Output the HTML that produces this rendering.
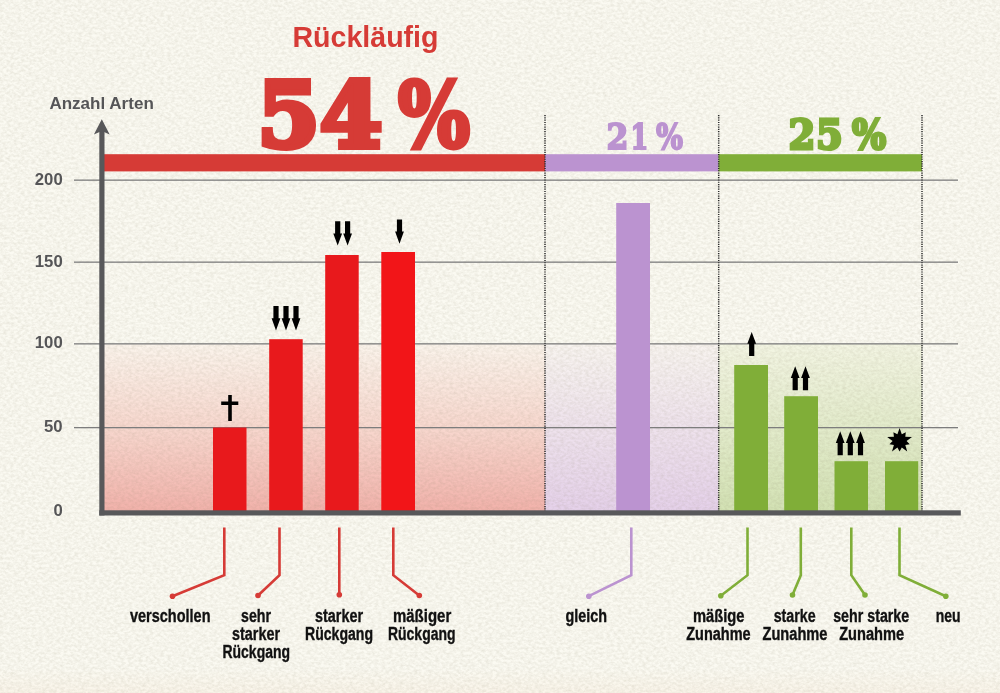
<!DOCTYPE html>
<html lang="de">
<head>
<meta charset="utf-8">
<title>Rückläufig</title>
<style>
html,body{margin:0;padding:0;background:#f4f3eb;}
body{width:1000px;height:693px;overflow:hidden;}
svg{display:block;}
.sans{font-family:"Liberation Sans",sans-serif;font-weight:bold;}
.slab{font-family:"DejaVu Serif","Liberation Serif",serif;font-weight:bold;}
.ax{fill:#58585a;}
.lbl{font-family:"Liberation Sans",sans-serif;font-weight:bold;font-size:17.5px;fill:#111;stroke:#111;stroke-width:0.35px;text-anchor:middle;}
</style>
</head>
<body>
<svg width="1000" height="693" viewBox="0 0 1000 693">
<defs>
<linearGradient id="gr" x1="0" y1="0" x2="0" y2="1">
<stop offset="0" stop-color="#fbf4ec"/><stop offset="0.5" stop-color="#f8d8cf"/><stop offset="1" stop-color="#f2b2ab"/>
</linearGradient>
<linearGradient id="gp" x1="0" y1="0" x2="0" y2="1">
<stop offset="0" stop-color="#f8f4f0"/><stop offset="1" stop-color="#e5d1ea"/>
</linearGradient>
<linearGradient id="gg" x1="0" y1="0" x2="0" y2="1">
<stop offset="0" stop-color="#f3f5e3"/><stop offset="1" stop-color="#d3e2b4"/>
</linearGradient>
<path id="ad" d="M-2.6 0h5.2v12.2h1.8L0 24.4 -4.4 12.2h1.8z"/>
<path id="au" d="M-2.6 24h5.2v-12.2h1.8L0 0 -4.4 11.8h1.8z"/>
<filter id="paper" x="0" y="0" width="100%" height="100%" color-interpolation-filters="sRGB">
<feTurbulence type="fractalNoise" baseFrequency="0.28 0.4" numOctaves="3" seed="7" result="n"/>
<feColorMatrix type="matrix" values="0 0 0 0 0.5  0 0 0 0 0.47  0 0 0 0 0.36  0.26 0 0 0 -0.08"/>
</filter>
<linearGradient id="warm" x1="0" y1="0" x2="0" y2="1">
<stop offset="0" stop-color="#f3d9bf" stop-opacity="0"/><stop offset="1" stop-color="#f3d9bf" stop-opacity="0.16"/>
</linearGradient>
</defs>
<rect width="1000" height="693" fill="#fbfaf2"/>
<rect y="668" width="1000" height="25" fill="url(#warm)"/>

<!-- shaded areas -->
<rect x="104" y="344" width="441" height="167" fill="url(#gr)"/>
<rect x="545" y="344" width="173.5" height="167" fill="url(#gp)"/>
<rect x="718.5" y="344" width="203.5" height="167" fill="url(#gg)"/>

<rect width="1000" height="693" filter="url(#paper)" pointer-events="none"/>
<!-- grid lines -->
<g fill="#7d7d7d">
<rect x="74" y="179.5" width="884" height="1.3"/>
<rect x="74" y="261.5" width="884" height="1.3"/>
<rect x="74" y="343.2" width="884" height="1.3"/>
<rect x="74" y="427" width="884" height="1.3"/>
</g>

<!-- header bars -->
<rect x="104" y="154.2" width="441" height="17.2" fill="#d63b36"/>
<rect x="545" y="154.2" width="173.5" height="17.2" fill="#bb93d0"/>
<rect x="718.5" y="154.2" width="203.5" height="17.2" fill="#80ae38"/>

<!-- data bars -->
<g fill="#e8191c">
<rect x="213" y="427.5" width="33.5" height="84"/>
<rect x="269.2" y="339.2" width="33.5" height="172"/>
<rect x="325.2" y="255" width="33.5" height="256"/>
<rect x="381.3" y="252" width="33.7" height="259" fill="#f21518"/>
</g>
<rect x="616.2" y="203" width="33.8" height="308" fill="#bb93d0"/>
<g fill="#80ae38">
<rect x="734.2" y="365" width="33.8" height="146"/>
<rect x="784.2" y="396.2" width="33.8" height="115"/>
<rect x="834.5" y="461.2" width="33.5" height="50"/>
<rect x="885" y="461.2" width="33.2" height="50"/>
</g>

<!-- dotted dividers -->
<g stroke="#2a2a2a" stroke-width="1.5" stroke-dasharray="1.15 1.15" fill="none">
<path d="M545 115V511"/><path d="M718.7 115V511"/><path d="M922 115V511"/>
</g>

<!-- axes -->
<rect class="ax" x="99.3" y="131" width="5.2" height="384.5"/>
<rect class="ax" x="99.3" y="510.3" width="861.5" height="5.2"/>
<path class="ax" d="M101.8 119.2L109.7 134.5 101.8 131 93.9 134.5z"/>

<!-- axis labels -->
<g class="sans" font-size="15.6" fill="#555557" lengthAdjust="spacingAndGlyphs">
<text x="34.8" y="184.5" textLength="27.9" lengthAdjust="spacingAndGlyphs">200</text>
<text x="34.8" y="266.5" textLength="27.9" lengthAdjust="spacingAndGlyphs">150</text>
<text x="34.8" y="348.3" textLength="27.9" lengthAdjust="spacingAndGlyphs">100</text>
<text x="44" y="432.2" textLength="18.6" lengthAdjust="spacingAndGlyphs">50</text>
<text x="53.4" y="516" textLength="9.3" lengthAdjust="spacingAndGlyphs">0</text>
</g>
<text class="sans" x="49.4" y="108.5" font-size="15.8" fill="#555557" textLength="104.4" lengthAdjust="spacingAndGlyphs">Anzahl Arten</text>

<!-- headings -->
<text class="sans" x="292.5" y="47.1" font-size="28.8" fill="#d63b36" textLength="146" lengthAdjust="spacingAndGlyphs">Rückläufig</text>
<text class="slab" y="146.6" font-size="90" fill="#d63b36" stroke="#d63b36" stroke-width="6" stroke-linejoin="miter"><tspan x="257.3 319.8">54</tspan><tspan x="398" textLength="72" lengthAdjust="spacingAndGlyphs" stroke-width="5">%</tspan></text>
<text class="slab" y="148.6" font-size="35" fill="#bb93d0" stroke="#bb93d0" stroke-width="2" stroke-linejoin="miter"><tspan x="606.5" textLength="21.9" lengthAdjust="spacingAndGlyphs">2</tspan><tspan x="630.4" textLength="17.8" lengthAdjust="spacingAndGlyphs">1</tspan><tspan x="656" textLength="27" lengthAdjust="spacingAndGlyphs">%</tspan></text>
<text class="slab" y="148.8" font-size="41" fill="#80ae38" stroke="#80ae38" stroke-width="3" stroke-linejoin="miter"><tspan x="788.5 816" textLength="53.7" lengthAdjust="spacingAndGlyphs">25</tspan><tspan x="852" textLength="34.2" lengthAdjust="spacingAndGlyphs">%</tspan></text>

<!-- icons -->
<g fill="#000">
<use href="#ad" x="276" y="306"/><use href="#ad" x="286" y="306"/><use href="#ad" x="296" y="306"/>
<use href="#ad" x="337.7" y="221.2"/><use href="#ad" x="347.6" y="221.2"/>
<use href="#ad" x="399.5" y="219.4"/>
<use href="#au" x="751.7" y="332"/>
<use href="#au" x="795.2" y="366.3"/><use href="#au" x="805.5" y="366.3"/>
<use href="#au" x="840.2" y="431.2"/><use href="#au" x="850.3" y="431.2"/><use href="#au" x="860.5" y="431.2"/>
<path d="M228.2 395.1h3.6v6.4h6.5v3.4h-6.5v16h-3.6v-16h-7v-3.4h7z"/>
<path id="star" d="M899.6 427.9L901.8 434.2L905.8 432.3L905.3 436.8L912.0 436.9L906.6 440.9L909.7 444.2L905.3 445.0L907.2 451.4L901.8 447.6L899.6 451.5L897.4 447.6L892.0 451.4L893.9 445.0L889.5 444.2L892.6 440.9L887.2 436.9L893.9 436.8L893.4 432.3L897.4 434.2z"/>
</g>

<!-- connectors -->
<g fill="none" stroke="#d63b36" stroke-width="2.6">
<path d="M224.3 527.5V575.2L172.5 596.2"/>
<path d="M279.5 527.5V575.2L258 595.5"/>
<path d="M339.3 527.5V595"/>
<path d="M393.3 527.5V575.2L419.3 595.5"/>
</g>
<g fill="#d63b36"><circle cx="172.5" cy="596.2" r="2.8"/><circle cx="258" cy="595.5" r="2.8"/><circle cx="339.3" cy="594.7" r="2.8"/><circle cx="419.3" cy="595.5" r="2.8"/></g>
<path d="M631.3 527.5V575.2L588.8 596.2" fill="none" stroke="#bb93d0" stroke-width="2.6"/>
<circle cx="588.8" cy="596.2" r="2.8" fill="#bb93d0"/>
<g fill="none" stroke="#80ae38" stroke-width="2.6">
<path d="M747.5 527.5V575.2L720.8 595.7"/>
<path d="M800.8 527.5V575.2L792.5 595"/>
<path d="M851.3 527.5V575.2L865 595"/>
<path d="M899.5 527.5V575.2L945.8 596.2"/>
</g>
<g fill="#80ae38"><circle cx="720.8" cy="595.7" r="2.8"/><circle cx="792.5" cy="595" r="2.8"/><circle cx="865" cy="595" r="2.8"/><circle cx="945.8" cy="596.2" r="2.8"/></g>

<!-- category labels -->
<g class="lbl">
<text x="130" y="622" text-anchor="start" textLength="80.5" lengthAdjust="spacingAndGlyphs">verschollen</text>
<text x="241" y="622" text-anchor="start" textLength="30" lengthAdjust="spacingAndGlyphs">sehr</text>
<text x="232" y="640" text-anchor="start" textLength="48" lengthAdjust="spacingAndGlyphs">starker</text>
<text x="222.5" y="658" text-anchor="start" textLength="67.5" lengthAdjust="spacingAndGlyphs">Rückgang</text>
<text x="315" y="622" text-anchor="start" textLength="48" lengthAdjust="spacingAndGlyphs">starker</text>
<text x="305" y="640" text-anchor="start" textLength="68" lengthAdjust="spacingAndGlyphs">Rückgang</text>
<text x="393" y="622" text-anchor="start" textLength="58.2" lengthAdjust="spacingAndGlyphs">mäßiger</text>
<text x="388" y="640" text-anchor="start" textLength="67.5" lengthAdjust="spacingAndGlyphs">Rückgang</text>
<text x="565.5" y="622" text-anchor="start" textLength="41.5" lengthAdjust="spacingAndGlyphs">gleich</text>
<text x="693" y="622" text-anchor="start" textLength="51.5" lengthAdjust="spacingAndGlyphs">mäßige</text>
<text x="686.2" y="640" text-anchor="start" textLength="64.5" lengthAdjust="spacingAndGlyphs">Zunahme</text>
<text x="773.7" y="622" text-anchor="start" textLength="42" lengthAdjust="spacingAndGlyphs">starke</text>
<text x="762.5" y="640" text-anchor="start" textLength="65" lengthAdjust="spacingAndGlyphs">Zunahme</text>
<text x="833.2" y="622" text-anchor="start" textLength="76" lengthAdjust="spacingAndGlyphs">sehr starke</text>
<text x="839.2" y="640" text-anchor="start" textLength="65" lengthAdjust="spacingAndGlyphs">Zunahme</text>
<text x="935.7" y="622" text-anchor="start" textLength="24.8" lengthAdjust="spacingAndGlyphs">neu</text>
</g>
</svg>
</body>
</html>
